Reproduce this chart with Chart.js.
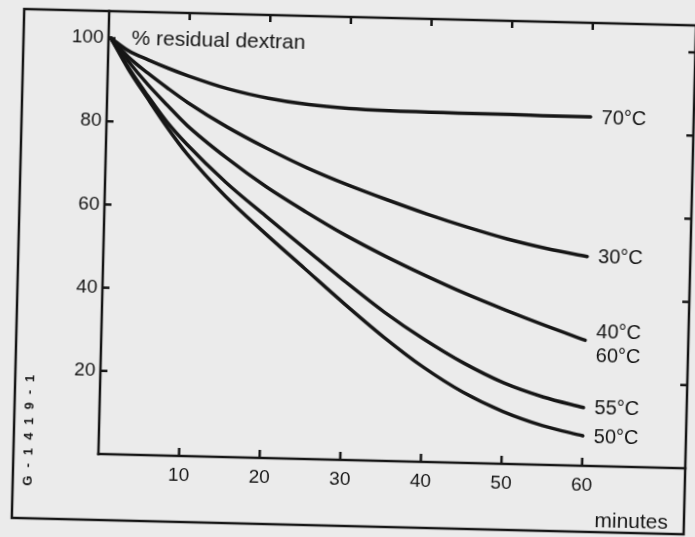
<!DOCTYPE html>
<html>
<head>
<meta charset="utf-8">
<script src="https://cdn.jsdelivr.net/npm/chart.js@4.4.1/dist/chart.umd.min.js"></script>
<style>
  html, body { margin: 0; padding: 0; background: #ebebeb; overflow: hidden; }
  #wrap { width: 695px; height: 537px; position: relative; }
  #c { position: absolute; left: 0; top: 0; transform: rotate(1.4deg); transform-origin: 347.5px 268.5px; }
</style>
</head>
<body>
<div id="wrap"><canvas id="c" width="695" height="537"></canvas></div>
<script>
// ---- data ----
const minutes = [0.3, 2.5, 5, 7.5, 10, 15, 20, 25, 30, 35, 40, 45, 50, 55, 60];
const res70   = [100, 97.1, 95.0, 93.1, 91.4, 88.5, 86.5, 85.2, 84.5, 84.2, 84.1, 84.0, 84.0, 83.9, 83.9];
const res30   = [100, 95.6, 91.8, 88.3, 85.0, 79.3, 74.4, 70.0, 66.2, 62.8, 59.6, 56.7, 54.1, 52.0, 50.3];
const res4060 = [100, 94.6, 89.1, 84.2, 79.5, 71.9, 65.2, 59.4, 54.0, 49.2, 44.8, 40.7, 37.0, 33.5, 30.2];
const res55   = [100, 93.2, 86.5, 80.2, 75.0, 66.0, 58.2, 50.6, 43.0, 35.8, 29.5, 24.0, 19.5, 16.3, 14.0];
const res50   = [100, 92.8, 85.8, 79.0, 72.8, 62.6, 54.0, 45.8, 37.6, 29.8, 22.8, 17.0, 12.6, 9.4, 7.2];
const seriesValues = [res70, res30, res4060, res55, res50];
const seriesLabels = [['70°C'], ['30°C'], ['40°C', '60°C'], ['55°C'], ['50°C']];
const xTickLabels = [10, 20, 30, 40, 50, 60];
const yTickLabels = [20, 40, 60, 80, 100];
const yTitle = '% residual dextran';
const xTitle = 'minutes';
const figCode = 'G-1419-1';

const INK = '#161616';
const FONT = '"Liberation Sans", Arial, Helvetica, sans-serif';

const datasets = seriesValues.map((vals, i) => ({
  label: seriesLabels[i].join(' / '),
  data: minutes.map((m, j) => ({ x: m, y: vals[j] })),
  borderColor: INK,
  borderWidth: 3.5,
  borderCapStyle: 'round',
  pointRadius: 0,
  cubicInterpolationMode: 'monotone',
  fill: false
}));

const decor = {
  id: 'decor',
  afterDraw(chart) {
    const { ctx, chartArea: a, scales: { x, y } } = chart;
    ctx.save();
    ctx.strokeStyle = INK;
    ctx.fillStyle = INK;
    ctx.lineWidth = 2.5;
    ctx.lineCap = 'square';
    const line = (x1, y1, x2, y2) => { ctx.beginPath(); ctx.moveTo(x1, y1); ctx.lineTo(x2, y2); ctx.stroke(); };
    // outer frame
    const oL = a.left - 85, oB = a.bottom + 66;
    ctx.strokeRect(oL, a.top, a.right - oL, oB - a.top);
    // axes
    line(a.left, a.top, a.left, a.bottom);
    line(a.left, a.bottom, a.right, a.bottom);
    // inward tick marks
    ctx.lineCap = 'butt';
    xTickLabels.forEach(v => {
      const px = x.getPixelForValue(v);
      line(px, a.bottom, px, a.bottom - 8);
      line(px, a.top, px, a.top + 7);
    });
    yTickLabels.forEach(v => {
      const py = y.getPixelForValue(v);
      line(a.left, py, a.left + 7, py);
      line(a.right, py, a.right - 7, py);
    });
    // texts
    ctx.font = '21px ' + FONT;
    ctx.textBaseline = 'middle';
    ctx.textAlign = 'left';
    ctx.fillText(yTitle, a.left + 23, y.getPixelForValue(100));
    ctx.textAlign = 'right';
    ctx.fillText(xTitle, a.right - 16, a.bottom + 55);
    // curve labels
    ctx.font = '20px ' + FONT;
    ctx.textAlign = 'left';
    const xEnd = x.getPixelForValue(minutes[minutes.length - 1]) + 11;
    seriesValues.forEach((vals, i) => {
      const yEnd = y.getPixelForValue(vals[vals.length - 1]);
      const lines = seriesLabels[i];
      if (lines.length === 1) {
        ctx.fillText(lines[0], xEnd, yEnd + 1);
      } else {
        ctx.fillText(lines[0], xEnd, yEnd - 8);
        ctx.fillText(lines[1], xEnd, yEnd + 16);
      }
    });
    // figure code, vertical
    ctx.save();
    ctx.translate(a.left - 70, a.bottom - 22);
    ctx.rotate(-Math.PI / 2);
    ctx.font = 'bold 13px ' + FONT;
    ctx.textAlign = 'center';
    try { ctx.letterSpacing = '8px'; } catch (e) {}
    ctx.fillText(figCode, 4, 0);
    ctx.restore();
    ctx.restore();
  }
};

new Chart(document.getElementById('c'), {
  type: 'line',
  data: { datasets },
  options: {
    responsive: false,
    animation: false,
    events: [],
    layout: { padding: { left: 0, right: 5, top: 17, bottom: 0 } },
    plugins: { legend: { display: false }, tooltip: { enabled: false }, title: { display: false } },
    scales: {
      x: {
        type: 'linear', min: 0, max: 72.8,
        grid: { display: false, drawTicks: false },
        border: { display: false },
        afterFit: s => { s.height = 77; },
        ticks: {
          stepSize: 10, includeBounds: false, autoSkip: false, maxRotation: 0,
          padding: 8, color: INK, font: { family: FONT, size: 19 },
          callback: v => xTickLabels.includes(v) ? String(v) : ''
        }
      },
      y: {
        type: 'linear', min: 0, max: 106.5,
        grid: { display: false, drawTicks: false },
        border: { display: false },
        afterFit: s => { s.width = 103; },
        ticks: {
          stepSize: 20, includeBounds: false, autoSkip: false,
          padding: 5, color: INK, font: { family: FONT, size: 19 },
          callback: v => yTickLabels.includes(v) ? String(v) : ''
        }
      }
    }
  },
  plugins: [decor]
});
</script>
</body>
</html>
